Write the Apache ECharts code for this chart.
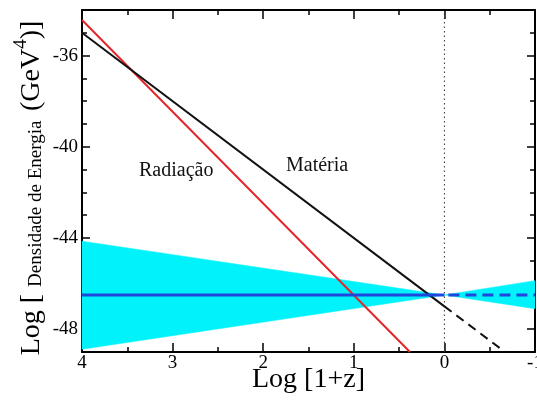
<!DOCTYPE html>
<html>
<head>
<meta charset="utf-8">
<script src="https://cdn.jsdelivr.net/npm/echarts@6/dist/echarts.min.js"></script>
<style>html,body{margin:0;padding:0;background:#fff}#c{width:537px;height:404px}</style>
</head>
<body>
<div id="c"></div>
<script>
// ---- data ----
var xLabelValues = [4, 3, 2, 1, 0, -1];
var yLabelValues = [-48, -44, -40, -36];
var yMinorTicks = [-49, -48, -47, -46, -45, -44, -43, -42, -41, -40, -39, -38, -37, -36, -35, -34];

var radiationX = [4, 0.38];
var radiationY = [-34.44, -49];

var matterX = [4, 0];
var matterY = [-35, -47];
var matterDashX = [0, -0.67];
var matterDashY = [-47, -49];

var darkX = [4, 0];
var darkY = [-46.5, -46.5];
var darkDashX = [0, -1];
var darkDashY = [-46.5, -46.5];

var bandX = [4, 0, -1];
var bandLow = [-48.88, -46.5, -47.1];
var bandHigh = [-44.14, -46.5, -45.87];

var zeroLineX = [0, 0];
var zeroLineY = [-49, -34];

function pairs(xs, ys) { return xs.map(function (x, i) { return [x, ys[i]]; }); }

var FONT = 'Liberation Serif';
var chart = echarts.init(document.getElementById('c'), null, { renderer: 'canvas' });

var xBase = {
  type: 'value', min: -1, max: 4, interval: 1, inverse: true, gridIndex: 0,
  splitLine: { show: false },
  axisLine: { show: true, onZero: false, lineStyle: { color: '#000', width: 2 } },
  axisTick: { show: true, inside: true, length: 9, lineStyle: { color: '#000', width: 1.5 } },
  minorTick: { show: true, splitNumber: 2, length: 5, lineStyle: { color: '#000', width: 1.5 } },
  minorSplitLine: { show: false }
};

function yAux(pos, major) {
  return {
    type: 'value', min: -49, max: -34, position: pos,
    splitLine: { show: false },
    axisLine: { show: major, onZero: false, lineStyle: { color: '#000', width: 2 } },
    axisLabel: { show: false },
    axisTick: { show: true, inside: true, length: major ? 8 : 5,
      customValues: major ? yLabelValues : yMinorTicks, lineStyle: { color: '#000', width: 1.5 } }
  };
}

var yMain = yAux('left', true);
yMain.axisLabel = { show: true, margin: 4, fontFamily: FONT, fontSize: 19, color: '#000', customValues: yLabelValues };
yMain.name = '{b|Log [ }{s|Densidade de Energia  }{b|(GeV}{sup|4}{b|)]}';
yMain.nameLocation = 'middle';
yMain.nameRotate = 90;
yMain.nameGap = 36;
yMain.nameMoveOverlap = false;
yMain.nameTextStyle = {
  padding: [0, 14, 0, 0],
  rich: {
    b: { fontFamily: FONT, fontSize: 28, lineHeight: 34, color: '#000', verticalAlign: 'bottom' },
    s: { fontFamily: FONT, fontSize: 19, lineHeight: 26, color: '#000', verticalAlign: 'bottom' },
    sup: { fontFamily: FONT, fontSize: 19, lineHeight: 22, color: '#000', verticalAlign: 'top' }
  }
};

var option = {
  backgroundColor: '#fff',
  animation: false,
  grid: { left: 82, top: 10, width: 453, height: 342, containLabel: false, outerBoundsMode: 'none' },
  xAxis: [
    Object.assign({}, xBase, {
      position: 'bottom',
      axisLabel: { show: true, margin: 2, fontFamily: FONT, fontSize: 19, color: '#000',
        customValues: xLabelValues, formatter: function (v) { return String(v); } },
      name: 'Log [1+z]', nameLocation: 'middle', nameGap: 14, nameMoveOverlap: false,
      nameTextStyle: { fontFamily: FONT, fontSize: 28, color: '#000', verticalAlign: 'top' }
    }),
    Object.assign({}, xBase, { position: 'top', axisLabel: { show: false } })
  ],
  yAxis: [yMain, yAux('left', false), yAux('right', true), yAux('right', false)],
  series: [
    {
      name: 'band', type: 'custom', silent: true, z: 1,
      data: bandX.map(function (x, i) { return [x, bandLow[i], bandHigh[i]]; }),
      renderItem: function (params, api) {
        var i = params.dataIndex;
        if (i >= bandX.length - 1) return null;
        var pts = [
          api.coord([bandX[i], bandHigh[i]]),
          api.coord([bandX[i + 1], bandHigh[i + 1]]),
          api.coord([bandX[i + 1], bandLow[i + 1]]),
          api.coord([bandX[i], bandLow[i]])
        ];
        return { type: 'polygon', shape: { points: pts }, style: { fill: '#00f2fa', stroke: '#00f2fa', lineWidth: 0.5 } };
      }
    },
    {
      name: 'zero', type: 'line', data: pairs(zeroLineX, zeroLineY), symbol: 'none',
      lineStyle: { color: '#333', width: 1, type: [1.5, 3] }, z: 2
    },
    {
      name: 'Radiação', type: 'line', data: pairs(radiationX, radiationY), symbol: 'none',
      lineStyle: { color: '#e3262b', width: 2 }, z: 3
    },
    {
      name: 'Matéria', type: 'line', data: pairs(matterX, matterY), symbol: 'none',
      lineStyle: { color: '#111', width: 2 }, z: 3
    },
    {
      name: 'MatériaFut', type: 'line', data: pairs(matterDashX, matterDashY), symbol: 'none',
      lineStyle: { color: '#111', width: 2, type: [9, 6] }, z: 3
    },
    {
      name: 'Energia Escura', type: 'line', data: pairs(darkX, darkY), symbol: 'none',
      lineStyle: { color: '#1f47de', width: 3 }, z: 4
    },
    {
      name: 'EnergiaFut', type: 'line', data: pairs(darkDashX, darkDashY), symbol: 'none',
      lineStyle: { color: '#1f47de', width: 3, type: [11, 6], dashOffset: -4 }, z: 4
    }
  ],
  graphic: [
    { type: 'text', left: 139, top: 161, style: { text: 'Radiação', font: '20px "Liberation Serif"', fill: '#111' } },
    { type: 'text', left: 286, top: 156, style: { text: 'Matéria', font: '20px "Liberation Serif"', fill: '#111' } },
    { type: 'text', left: 123, top: 269, style: { text: 'Energia Escura', font: '20px "Liberation Serif"', fill: '#111' } }
  ]
};
chart.setOption(option);
</script>
</body>
</html>
